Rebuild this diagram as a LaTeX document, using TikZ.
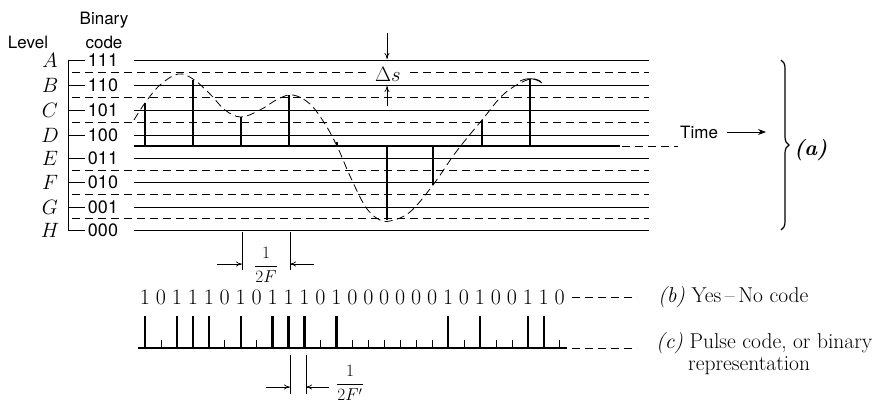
\documentclass[tikz,border=0pt]{standalone}
\usepackage{fontspec}
\newfontfamily\hv{TeX Gyre Heros}
\usetikzlibrary{arrows.meta,decorations.pathreplacing}
\begin{document}
\begin{tikzpicture}[x=1pt,y=-1pt,
  lvl/.style={line width=0.8pt},
  half/.style={line width=0.8pt, dash pattern=on 8pt off 5pt},
  axisline/.style={line width=2.4pt},
  stick/.style={line width=2.4pt},
  thinline/.style={line width=0.7pt},
  curveline/.style={line width=0.8pt, dash pattern=on 8pt off 4.5pt},
  sans/.style={font=\hv\fontsize{17}{19}\selectfont, inner sep=0pt},
  letterlbl/.style={font=\fontsize{21}{23}\selectfont, inner sep=0pt},
  digitlbl/.style={font=\fontsize{22}{24}\selectfont, inner sep=0pt},
  caplabel/.style={font=\fontsize{21.5}{23}\selectfont, inner sep=0pt, anchor=west},
  arr/.style={line width=0.7pt,-{To[length=6pt,width=5pt]}},
  fraclbl/.style={font=\fontsize{16.5}{18}\selectfont, inner sep=0pt}]
\useasboundingbox (0,0) rectangle (874,402);

% headers
\node[sans] (lev) at (28,42) {Level};
\node[sans] (bin) at (104,20) {Binary};
\node[sans] (cod) at (104,42) {code};

% level lines and labels
\foreach \y/\L/\c [count=\i] in {60/A/111,85/B/110,110/C/101,135/D/100,158/E/011,182/F/010,207/G/001,230/H/000}{
  \draw[lvl] (134,\y) -- (649,\y);
  \draw[lvl] (68,\y) -- (85,\y);
  \node[letterlbl] (L\i) at (50,\y) {$\L$};
  \node[sans,font=\hv\fontsize{18}{20}\selectfont] (C\i) at (103,\y) {\c};
}
\draw[lvl] (68,60) -- (68,230);
\foreach \y in {72,97.5,122,170,194,218}{
  \draw[half] (72,\y) -- (649,\y);
}

% time axis
\draw[axisline] (134,146) -- (620,146);
\draw[half] (622,146) -- (678,146);
\node[sans,anchor=west] (time) at (680,132) {Time};
\coordinate (ta) at (727,132);
\coordinate (tb) at (766,132);
\draw[line width=0.9pt,-{Stealth[length=8pt,width=6pt]}] (ta) -- (tb);

% samples
\foreach \x/\t in {145/103,193/80,241/117,289/95,337/142,387/220,433/185,482/120,530/79}{
  \draw[stick] (\x,146) -- (\x,\t);
}

% dashed analog curve
\draw[curveline] plot[smooth,tension=0.6] coordinates {
 (134,120) (145,103) (160,85) (178,74) (193,79) (210,94) (225,110) (241,117)
 (260,110) (278,99) (293,95) (310,104) (325,124) (337,146) (350,176) (365,206)
 (378,219) (390,221) (410,212) (433,185) (456,152) (482,120) (505,93) (530,79) (543,83)};
\draw[line width=0.8pt] (520,81) to[bend left=30] (542,83);

% Delta s
\coordinate (d1) at (387,33);
\coordinate (d2) at (387,59);
\coordinate (d3) at (387,106);
\coordinate (d4) at (387,86);
\draw[arr] (d1) -- (d2);
\draw[arr] (d3) -- (d4);
\node[font=\fontsize{21}{23}\selectfont, inner xsep=5pt, inner ysep=1pt, fill=white] (ds) at (388,74) {$\Delta s$};

% brace (a)
\coordinate (br1) at (781,60);
\coordinate (br2) at (781,230);
\draw[line width=1.2pt, decoration={brace, amplitude=8pt}, decorate] (br1) -- (br2);
\node[caplabel] (a) at (794,150) {\textbf{\textit{(a)}}};

% 1/2F
\draw[thinline] (242,232) -- (242,270);
\draw[thinline] (290,232) -- (290,270);
\coordinate (fa) at (217,264);
\coordinate (fb) at (242,264);
\coordinate (fc) at (314,264);
\coordinate (fd) at (290,264);
\draw[arr] (fa) -- (fb);
\draw[arr] (fc) -- (fd);
\node[fraclbl] (f1) at (266,265) {$\displaystyle\frac{1}{2F}$};

% yes-no code digits and pulses
\def\bits{1,0,1,1,1,0,1,0,1,1,1,0,1,0,0,0,0,0,0,1,0,1,0,0,1,1,0}
\foreach \b [count=\i from 0] in \bits {
  \pgfmathsetmacro{\xx}{145+15.95*\i}
  \node[digitlbl] (b\i) at (\xx,297) {\b};
  \ifnum\b=1
    \draw[stick] (\xx,348) -- (\xx,316);
  \else
    \draw[thinline] (\xx,348) -- (\xx,340);
  \fi
}
\draw[line width=1.8pt] (138,348) -- (567,348);
\draw[half] (572,348) -- (637,348);
\draw[half] (572,297) -- (637,297);
\node[caplabel] (yb) at (658,297) {\textit{(b)} Yes\,--\,No code};
\node[caplabel] (yc) at (656,343) {\textit{(c)} Pulse code, or binary};
\node[caplabel] (yr) at (688,366) {representation};

% 1/2F'
\draw[thinline] (290,355) -- (290,394);
\draw[thinline] (306,355) -- (306,394);
\coordinate (ga) at (266,387);
\coordinate (gb) at (290,387);
\coordinate (gc) at (329,387);
\coordinate (gd) at (306,387);
\draw[arr] (ga) -- (gb);
\draw[arr] (gc) -- (gd);
\node[fraclbl] (f2) at (350,383) {$\displaystyle\frac{1}{2F'}$};
\end{tikzpicture}
\end{document}
